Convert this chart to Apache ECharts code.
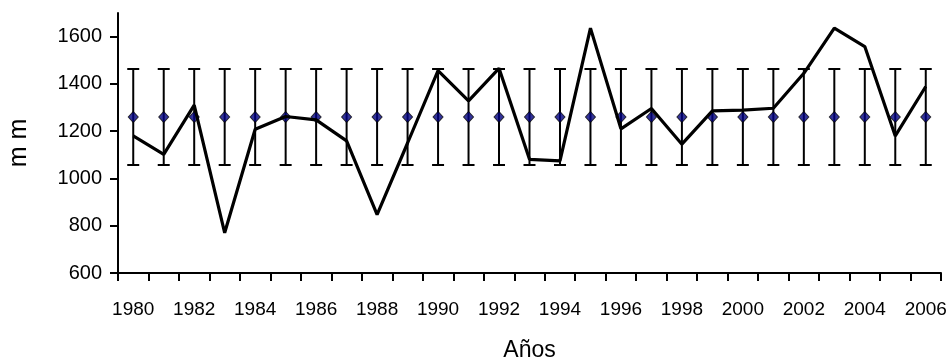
<!DOCTYPE html>
<html>
<head>
<meta charset="utf-8">
<script src="https://cdn.jsdelivr.net/npm/echarts@6/dist/echarts.min.js"></script>
<style>
  html, body { margin: 0; padding: 0; background: #fff; }
  #chart { width: 949px; height: 361px; }
</style>
</head>
<body>
<div id="chart"></div>
<script>
// Annual precipitation (mm), 1980-2006, against the long-term mean ± one standard deviation
const years = ['1980','1981','1982','1983','1984','1985','1986','1987','1988','1989',
  '1990','1991','1992','1993','1994','1995','1996','1997','1998','1999',
  '2000','2001','2002','2003','2004','2005','2006'];

const rainfall = [1180, 1102, 1310, 770, 1208, 1262, 1248, 1159, 847, 1150,
  1456, 1328, 1466, 1081, 1074, 1636, 1210, 1296, 1145, 1286,
  1289, 1297, 1445, 1636, 1558, 1180, 1389];

const meanLine = [1260, 1260, 1260, 1260, 1260, 1260, 1260, 1260, 1260, 1260,
  1260, 1260, 1260, 1260, 1260, 1260, 1260, 1260, 1260, 1260,
  1260, 1260, 1260, 1260, 1260, 1260, 1260];

const errLow = [1057, 1057, 1057, 1057, 1057, 1057, 1057, 1057, 1057, 1057,
  1057, 1057, 1057, 1057, 1057, 1057, 1057, 1057, 1057, 1057,
  1057, 1057, 1057, 1057, 1057, 1057, 1057];

const errHigh = [1463, 1463, 1463, 1463, 1463, 1463, 1463, 1463, 1463, 1463,
  1463, 1463, 1463, 1463, 1463, 1463, 1463, 1463, 1463, 1463,
  1463, 1463, 1463, 1463, 1463, 1463, 1463];

const yTicks = [600, 800, 1000, 1200, 1400, 1600];

const font = 'Liberation Sans, Arial, sans-serif';
const narrowFont = 'Liberation Sans Narrow, Arial Narrow, Liberation Sans, sans-serif';
const chart = echarts.init(document.getElementById('chart'), null, { renderer: 'canvas' });

const errorData = years.map((y, i) => [i, errLow[i], errHigh[i]]);

chart.setOption({
  animation: false,
  backgroundColor: '#fff',
  grid: { left: 118, right: 8, top: 13, bottom: 88, containLabel: false, outerBoundsMode: 'none' },
  xAxis: {
    type: 'category',
    data: years,
    boundaryGap: true,
    name: 'Años',
    nameLocation: 'middle',
    nameGap: 66,
    nameTextStyle: { fontFamily: font, fontSize: 23, color: '#000' },
    axisLine: { lineStyle: { color: '#000', width: 2 } },
    axisTick: { show: true, interval: 0, length: 8, lineStyle: { color: '#000', width: 2 } },
    axisLabel: { interval: 1, margin: 27, fontFamily: font, fontSize: 19, color: '#000' },
    splitLine: { show: false }
  },
  yAxis: {
    type: 'value',
    min: 600,
    max: 1700,
    interval: 200,
    name: 'm m',
    nameLocation: 'middle',
    nameGap: 86,
    nameRotate: 90,
    nameTextStyle: { fontFamily: narrowFont, fontSize: 25, color: '#000' },
    axisLine: { show: true, lineStyle: { color: '#000', width: 2 } },
    axisTick: { show: true, length: 8, customValues: yTicks, lineStyle: { color: '#000', width: 2 } },
    axisLabel: {
      margin: 16, customValues: yTicks, fontFamily: font, fontSize: 20, color: '#000',
      formatter: function (v) { return String(v); }
    },
    splitLine: { show: false }
  },
  series: [
    {
      name: 'Desviación',
      type: 'custom',
      data: errorData,
      z: 2,
      renderItem: function (params, api) {
        const x = api.value(0);
        const lo = api.coord([x, api.value(1)]);
        const hi = api.coord([x, api.value(2)]);
        const half = 6;
        const style = { stroke: '#000', lineWidth: 2 };
        return {
          type: 'group',
          children: [
            { type: 'line', shape: { x1: hi[0], y1: hi[1], x2: lo[0], y2: lo[1] }, style: style },
            { type: 'line', shape: { x1: hi[0] - half, y1: hi[1], x2: hi[0] + half, y2: hi[1] }, style: style },
            { type: 'line', shape: { x1: lo[0] - half, y1: lo[1], x2: lo[0] + half, y2: lo[1] }, style: style }
          ]
        };
      },
      encode: { x: 0, y: [1, 2] }
    },
    {
      name: 'Media',
      type: 'scatter',
      data: meanLine,
      symbol: 'diamond',
      symbolSize: [10, 11],
      z: 3,
      itemStyle: { color: '#000080', borderColor: '#000', borderWidth: 1 }
    },
    {
      name: 'Precipitación',
      type: 'line',
      data: rainfall,
      showSymbol: false,
      symbol: 'none',
      z: 4,
      lineStyle: { color: '#000', width: 3.2 }
    }
  ]
});
</script>
</body>
</html>
